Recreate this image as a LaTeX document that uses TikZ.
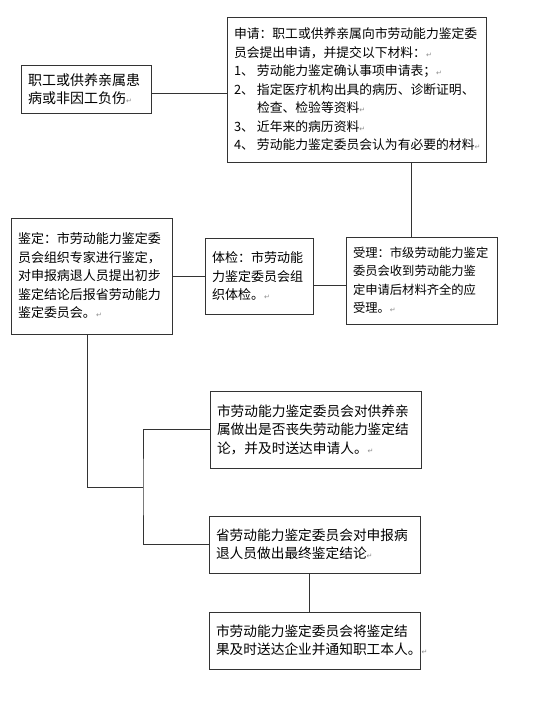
\documentclass[tikz,border=0pt]{standalone}
\usepackage{fontspec}
\newfontfamily\cjk{Noto Sans CJK SC}
\newfontfamily\symfont{DejaVu Sans}
\usetikzlibrary{calc}
\tikzset{
    flow chart/.style = {x=1pt, y=-1pt},
    txt/.style        = {font=\cjk\fontsize{#1}{18.5}\selectfont},
    box/.style        = {draw=black!80, line width=0.8pt, fill=white,
                         align=left, inner xsep=7pt, inner ysep=0pt, txt=13},
    line/.style       = {draw=black!80, line width=0.8pt}
}
\newcommand{\pmk}{{\symfont\fontsize{7}{7}\selectfont\color{black!45}↵}}
\newcommand{\itm}[1]{\makebox[23pt][l]{#1}}

\begin{document}
\begin{tikzpicture}[flow chart]
\useasboundingbox (0,0) rectangle (536,702);

% ================= Application =================
\node[box, txt=14, text width=116pt, minimum height=48pt] (patient) at (86,89)
    {职工或供养亲属患\\病或非因工负伤\pmk};
\node[box, txt=12.8, text width=245pt, minimum height=145pt] (apply) at (356.5,89.5)
    {申请：职工或供养亲属向市劳动能力鉴定委\\
     员会提出申请，并提交以下材料：\pmk\\
     \itm{1、}劳动能力鉴定确认事项申请表；\pmk\\
     \itm{2、}指定医疗机构出具的病历、诊断证明、\\
     \hspace*{23pt}检查、检验等资料\pmk\\
     \itm{3、}近年来的病历资料\pmk\\
     \itm{4、}劳动能力鉴定委员会认为有必要的材料\pmk};

% ================= Acceptance, examination, appraisal =================
\node[box, txt=12.3, text width=137pt, minimum height=87pt] (accept) at (421.5,280.5)
    {受理：市级劳动能力鉴定\\委员会收到劳动能力鉴\\定申请后材料齐全的应\\受理。\pmk};
\node[box, text width=94pt, minimum height=76pt] (exam) at (259,276)
    {体检：市劳动能\\力鉴定委员会组\\织体检。\pmk};
\node[box, text width=147pt, minimum height=116pt] (appraise) at (91.5,276)
    {鉴定：市劳动能力鉴定委\\员会组织专家进行鉴定，\\对申报病退人员提出初步\\鉴定结论后报省劳动能力\\鉴定委员会。\pmk};

% ================= Conclusions =================
\node[box, txt=13.7, text width=197pt, minimum height=77pt] (kinresult) at (315.5,429.5)
    {市劳动能力鉴定委员会对供养亲\\属做出是否丧失劳动能力鉴定结\\论，并及时送达申请人。\pmk};
\node[box, txt=13.7, text width=197pt, minimum height=57pt] (final) at (314.5,544.5)
    {省劳动能力鉴定委员会对申报病\\退人员做出最终鉴定结论\pmk};
\node[box, txt=13.7, text width=197pt, minimum height=57pt] (notify) at (314.5,640.5)
    {市劳动能力鉴定委员会将鉴定结\\果及时送达企业并通知职工本人。\pmk};

% ================= Connectors =================
\coordinate (drop) at (411,0);
\coordinate (trunk) at (87,487);
\coordinate (fork) at (143,487);
\coordinate (link) at (309,0);
\draw[line] ([yshift=-4pt]patient.east) -- ([yshift=-4pt]patient.east -| apply.west);
\draw[line] (apply.south -| drop) -- (accept.north -| drop);
\draw[line] ([yshift=-4.5pt]accept.west) -- ([yshift=-4.5pt]accept.west -| exam.east);
\draw[line] (exam.west) -- (appraise.east);
\draw[line] (appraise.south -| trunk) -- (trunk) -- (fork);
\draw[line] (kinresult.west) -| (fork) |- (final.west);
\draw[line] (final.south -| link) -- (notify.north -| link);

\end{tikzpicture}
\end{document}
